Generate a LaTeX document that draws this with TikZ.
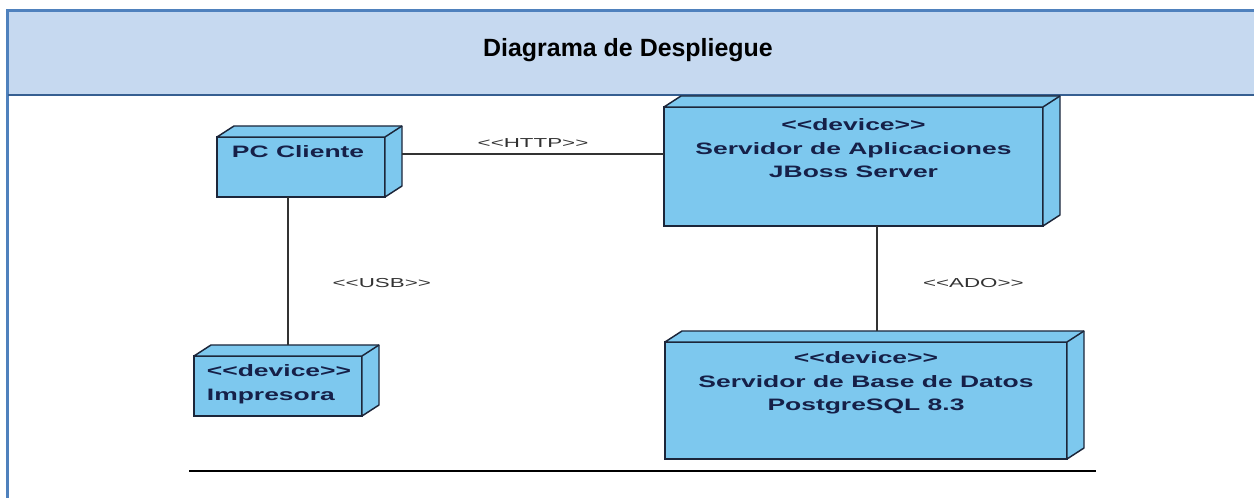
\documentclass[tikz,border=0pt]{standalone}
\usepackage{xcolor}
\usepackage{fontspec}
\setmainfont{Liberation Sans}
\newfontfamily\widefont[FakeStretch=1.6]{Liberation Sans}
\newfontfamily\linkfont[FakeStretch=1.72]{Liberation Sans}
\usetikzlibrary{positioning, calc}
\definecolor{frameBlue}{RGB}{79, 129, 189}
\definecolor{headFill}{RGB}{198, 217, 240}
\definecolor{headEdge}{RGB}{54, 95, 145}
\definecolor{devFill}{RGB}{125, 200, 238}
\definecolor{devEdge}{RGB}{28, 38, 58}
\definecolor{devText}{RGB}{22, 32, 72}
\definecolor{linkGray}{RGB}{50, 50, 50}

\begin{document}
\begin{tikzpicture}[
    x=0.75pt, y=-0.75pt,
    device/.style={
        rectangle,
        draw=devEdge,
        fill=devFill,
        line width=1.1pt,
        inner sep=0pt,
        outer sep=0pt
    },
    devside/.style={
        draw=devEdge,
        fill=devFill,
        line width=1.1pt,
        line join=round
    },
    devtext/.style={
        inner sep=0pt,
        text=devText,
        font=\widefont\bfseries\fontsize{12.4}{17.6}\selectfont
    },
    linklabel/.style={
        inner sep=0pt,
        text=linkGray,
        font=\linkfont\fontsize{9.75}{12}\selectfont
    },
    link/.style={draw=linkGray, line width=1pt}
]
    \useasboundingbox (0,0) rectangle (1254,498);

    % Frame and header
    \fill[headFill] (8,11) rectangle (1254,95);
    \draw[frameBlue, line width=2.25pt] (7.5,498) -- (7.5,10.5) -- (1254,10.5);
    \draw[headEdge, line width=1.5pt] (8,95) -- (1254,95);
    \node[font=\bfseries\fontsize{18.7}{22}\selectfont] (title) at (628,50) {Diagrama de Despliegue};

    % Devices
    \node[device, minimum width=126pt, minimum height=45pt] (pc) at (301,167) {};
    \node[device, minimum width=284.25pt, minimum height=89.25pt] (app) at (853.5,166.5) {};
    \node[device, minimum width=126pt, minimum height=45pt] (imp) at (278,386) {};
    \node[device, minimum width=301.5pt, minimum height=87.75pt] (db) at (866,400.5) {};

    \foreach \n in {pc,app,imp,db}{
        \draw[devside] (\n.north west) -- ([shift={(17,-11)}]\n.north west)
            -- ([shift={(17,-11)}]\n.north east) -- ([shift={(17,-11)}]\n.south east)
            -- (\n.south east) -- (\n.north east) -- cycle;
        \draw[devside] (\n.north east) -- ([shift={(17,-11)}]\n.north east);
    }

    % Device texts
    \node[devtext, below right=6.5pt and 11pt of pc.north west] (pcText) {PC Cliente};
    \node[devtext, align=center, below=8.5pt of app.north] (appText) {<<device>>\\Servidor de Aplicaciones\\JBoss Server};
    \node[devtext, align=left, below right=6.5pt and 9.5pt of imp.north west] (impText) {<<device>>\\Impresora};
    \node[devtext, align=center, below=7pt of db.north] (dbText) {<<device>>\\Servidor de Base de Datos\\PostgreSQL 8.3};

    % Connections
    \coordinate (httpA) at ([shift={(17,-13)}]pc.east);
    \draw[link] (httpA) -- (httpA -| app.west) node[linklabel, midway, above=4pt] {<<HTTP>>};

    \coordinate (usbA) at ([shift={(-13,0)}]pc.south);
    \coordinate (impTop) at ([shift={(0,-11)}]imp.north);
    \draw[link] (usbA) -- (usbA |- impTop) node[linklabel, pos=.58, right=33pt] {<<USB>>};

    \coordinate (adoA) at ([shift={(23.5,0)}]app.south);
    \coordinate (dbTop) at ([shift={(0,-11)}]db.north);
    \draw[link] (adoA) -- (adoA |- dbTop) node[linklabel, pos=.54, right=34pt] {<<ADO>>};

    % Footer rule
    \draw[line width=1.5pt] (189,471) -- (1096,471);
\end{tikzpicture}
\end{document}
